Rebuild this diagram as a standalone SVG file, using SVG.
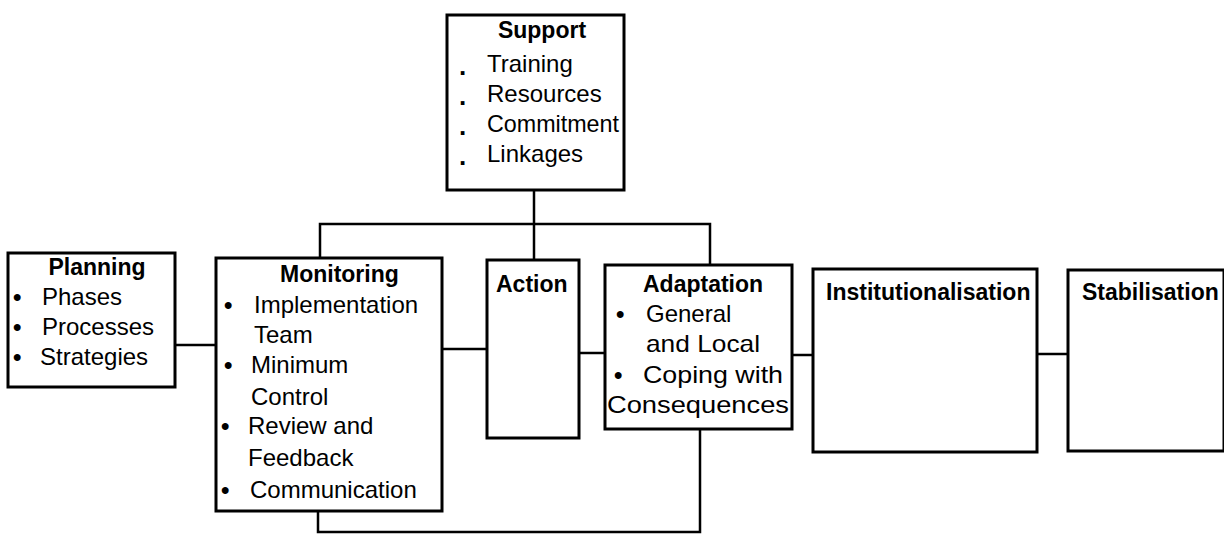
<svg xmlns="http://www.w3.org/2000/svg" width="1224" height="534" viewBox="0 0 1224 534">
<style>
.box{fill:#fff;stroke:#000;stroke-width:3}
.c{fill:none;stroke:#000;stroke-width:2.5}
text{font-family:"Liberation Sans",Arial,sans-serif;font-size:24px;fill:#000}
.h{font-weight:bold;font-size:23px}
.d{font-weight:bold;font-size:26px}
.b{font-weight:bold}
</style>
<rect width="1224" height="534" fill="#fff"/>
<g id="connectors">
<path class="c" d="M534,190 V260"/>
<path class="c" d="M320,258 V224 H710 V265"/>
<path class="c" d="M175,345 H216"/>
<path class="c" d="M442,349 H487"/>
<path class="c" d="M579,353 H605"/>
<path class="c" d="M792,355 H813"/>
<path class="c" d="M1037,354 H1068"/>
<path class="c" d="M318,511 V532 H700 V429"/>
</g>
<g id="support">
<rect class="box" x="447" y="15" width="177" height="175"/>
<text class="h" x="542" y="38" text-anchor="middle">Support</text>
<text class="d" x="459" y="75">.</text><text x="487" y="72">Training</text>
<text class="d" x="459" y="105">.</text><text x="487" y="102">Resources</text>
<text class="d" x="459" y="135">.</text><text x="487" y="132" textLength="132" lengthAdjust="spacingAndGlyphs">Commitment</text>
<text class="d" x="459" y="165">.</text><text x="487" y="162">Linkages</text>
</g>
<g id="planning">
<rect class="box" x="8" y="253" width="167" height="134"/>
<text class="h" x="97" y="275" text-anchor="middle">Planning</text>
<text class="b" x="13" y="305">•</text><text x="42" y="305">Phases</text>
<text class="b" x="13" y="335">•</text><text x="42" y="335">Processes</text>
<text class="b" x="13" y="365">•</text><text x="40" y="365">Strategies</text>
</g>
<g id="monitoring">
<rect class="box" x="216" y="258" width="226" height="253"/>
<text class="h" x="280" y="282">Monitoring</text>
<text class="b" x="224" y="313">•</text><text x="254" y="313">Implementation</text>
<text x="254" y="343">Team</text>
<text class="b" x="224" y="373">•</text><text x="251" y="373">Minimum</text>
<text x="251" y="405">Control</text>
<text class="b" x="221" y="434">•</text><text x="248" y="434">Review and</text>
<text x="248" y="466">Feedback</text>
<text class="b" x="221" y="498">•</text><text x="250" y="498">Communication</text>
</g>
<g id="action">
<rect class="box" x="487" y="260" width="92" height="178"/>
<text class="h" x="496" y="292">Action</text>
</g>
<g id="adaptation">
<rect class="box" x="605" y="265" width="187" height="164"/>
<text class="h" x="643" y="292">Adaptation</text>
<text class="b" x="616" y="322">•</text><text x="646" y="322">General</text>
<text x="646" y="352" textLength="114" lengthAdjust="spacingAndGlyphs">and Local</text>
<text class="b" x="614" y="383">•</text><text x="643" y="383" textLength="140" lengthAdjust="spacingAndGlyphs">Coping with</text>
<text x="607" y="413" textLength="182" lengthAdjust="spacingAndGlyphs">Consequences</text>
</g>
<g id="institutionalisation">
<rect class="box" x="813" y="269" width="224" height="183"/>
<text class="h" x="826" y="300">Institutionalisation</text>
</g>
<g id="stabilisation">
<rect class="box" x="1068" y="270" width="156" height="181"/>
<text class="h" x="1082" y="300">Stabilisation</text>
</g>
</svg>
